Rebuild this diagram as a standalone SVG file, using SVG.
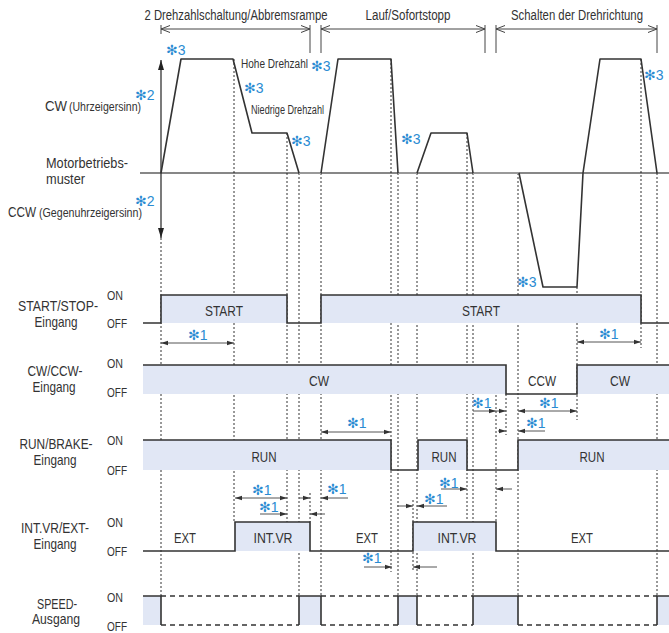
<svg xmlns="http://www.w3.org/2000/svg" width="669" height="633" viewBox="0 0 669 633">
<defs>
<style>
text{font-family:"Liberation Sans Narrow","Liberation Sans",Arial,sans-serif;fill:#333}
.lbl{font-size:14.5px}
.sm{font-size:12px}
.io{font-size:13px}
.in{font-size:14px}
.ttl{font-size:14px}
.mk{font-size:14px;fill:#2a8bd2}
.st{font-family:"DejaVu Sans",sans-serif;font-size:14px;fill:#2a8bd2}
.sig{fill:none;stroke:#333;stroke-width:1.6}
.band{fill:#e1e7f5}
.dot{stroke:#333;stroke-width:1;stroke-dasharray:2,2;fill:none}
.dash{stroke:#333;stroke-width:1.3;stroke-dasharray:5,4;fill:none}
.arr{stroke:#555;stroke-width:1;fill:none;marker-end:url(#ah)}
.dbl{stroke:#555;stroke-width:1;fill:none;marker-end:url(#ah);marker-start:url(#ah)}
.dim{stroke:#444;stroke-width:1;fill:none;marker-end:url(#ch);marker-start:url(#ch)}
.tick{stroke:#444;stroke-width:1;fill:none}
.prof{fill:none;stroke:#333;stroke-width:1.6;stroke-linejoin:round}
</style>
<marker id="ah" viewBox="-8 -3 9 6" markerWidth="9" markerHeight="6" refX="0" refY="0" orient="auto-start-reverse" markerUnits="userSpaceOnUse"><path d="M-7,-2.3 L0,0 L-7,2.3 Z" fill="#333"/></marker>
<marker id="ch" viewBox="-10 -5 11 10" markerWidth="11" markerHeight="10" refX="0" refY="0" orient="auto-start-reverse" markerUnits="userSpaceOnUse"><path d="M-9,-3.5 L0,0 L-9,3.5" fill="none" stroke="#444" stroke-width="1"/></marker>
<marker id="ax" viewBox="-11 -4 12 8" markerWidth="12" markerHeight="8" refX="0" refY="0" orient="auto-start-reverse" markerUnits="userSpaceOnUse"><path d="M-10,-3 L0,0 L-10,3 Z" fill="#222"/></marker>
</defs>

<g id="titles">
<text class="ttl" x="236" y="20" text-anchor="middle" textLength="183" lengthAdjust="spacingAndGlyphs">2 Drehzahlschaltung/Abbremsrampe</text>
<text class="ttl" x="408" y="20" text-anchor="middle" textLength="85" lengthAdjust="spacingAndGlyphs">Lauf/Sofortstopp</text>
<text class="ttl" x="577" y="20" text-anchor="middle" textLength="132" lengthAdjust="spacingAndGlyphs">Schalten der Drehrichtung</text>
<line class="dim" x1="161" y1="29" x2="310" y2="29"/>
<line class="dim" x1="321" y1="29" x2="485" y2="29"/>
<line class="dim" x1="496" y1="29" x2="657" y2="29"/>
<path class="tick" d="M161,25 V34 M310,25 V53 M321,25 V53 M485,25 V53 M496,25 V53 M657,25 V53"/>
</g>

<g id="dotted">
<path class="dot" d="M161,238 V596 M234,59 V522 M287,133 V522 M299,173 V596 M310,493 V522 M321,173 V596 M391,59 V572 M398,173 V596 M413,500 V572 M417,173 V596 M467,133 V520 M473,173 V596 M496,395 V522 M506,394 V435 M518,173 V596 M577,287 V420 M641,59 V348 M657,173 V596"/>
</g>

<g id="motor">
<line x1="140" y1="173" x2="669" y2="173" stroke="#111" stroke-width="1.2"/>
<line x1="161" y1="173" x2="161" y2="60" stroke="#222" stroke-width="1.2" marker-end="url(#ax)"/>
<line x1="161" y1="173" x2="161" y2="238" stroke="#222" stroke-width="1.2" marker-end="url(#ax)"/>
<path d="M299,173 H321 M398,173 H417 M473,173 H519" stroke="#999" stroke-width="2.2" fill="none"/>
<path class="prof" d="M161,173 L181,59 L233,59 L252,133 L287,133 L299,173 M321,173 L338,59 L391,59 L398,173 M417,173 L431,133 L467,133 L473,173 M519,173 L543,287 L577,287 L583,173 L600,59 L641,59 L657,173"/>
<text class="mk" x="166" y="55"><tspan class="st">✻</tspan>3</text>
<text class="sm" x="241" y="68" textLength="67" lengthAdjust="spacingAndGlyphs">Hohe Drehzahl</text>
<text class="mk" x="311" y="71"><tspan class="st">✻</tspan>3</text>
<text class="mk" x="244" y="93"><tspan class="st">✻</tspan>3</text>
<text class="sm" x="251" y="114" textLength="73" lengthAdjust="spacingAndGlyphs">Niedrige Drehzahl</text>
<text class="mk" x="291" y="146"><tspan class="st">✻</tspan>3</text>
<text class="mk" x="401" y="144"><tspan class="st">✻</tspan>3</text>
<text class="mk" x="644" y="80"><tspan class="st">✻</tspan>3</text>
<text class="mk" x="517" y="287"><tspan class="st">✻</tspan>3</text>
<text class="mk" x="135" y="100"><tspan class="st">✻</tspan>2</text>
<text class="mk" x="135" y="206"><tspan class="st">✻</tspan>2</text>
<text class="lbl" x="45" y="111" textLength="22" lengthAdjust="spacingAndGlyphs">CW</text>
<text class="sm" x="69" y="111" textLength="72" lengthAdjust="spacingAndGlyphs">(Uhrzeigersinn)</text>
<text class="lbl" x="8" y="217" textLength="28" lengthAdjust="spacingAndGlyphs">CCW</text>
<text class="sm" x="39" y="217" textLength="103" lengthAdjust="spacingAndGlyphs">(Gegenuhrzeigersinn)</text>
<text class="lbl" x="46" y="168" textLength="82" lengthAdjust="spacingAndGlyphs">Motorbetriebs-</text>
<text class="lbl" x="46" y="184" textLength="39" lengthAdjust="spacingAndGlyphs">muster</text>
</g>

<g id="start-stop">
<rect class="band" x="161" y="295" width="126" height="28"/>
<rect class="band" x="321" y="295" width="320" height="28"/>
<path class="sig" d="M143,323 H161 V295 H287 V323 H321 V295 H641 V323 H669"/>
<text class="lbl" x="58" y="311" text-anchor="middle" textLength="80" lengthAdjust="spacingAndGlyphs">START/STOP-</text>
<text class="lbl" x="56" y="327" text-anchor="middle" textLength="43" lengthAdjust="spacingAndGlyphs">Eingang</text>
<text class="io" x="107" y="300" textLength="16" lengthAdjust="spacingAndGlyphs">ON</text>
<text class="io" x="107" y="328" textLength="20" lengthAdjust="spacingAndGlyphs">OFF</text>
<text class="in" x="224" y="316" text-anchor="middle" textLength="38" lengthAdjust="spacingAndGlyphs">START</text>
<text class="in" x="481" y="316" text-anchor="middle" textLength="38" lengthAdjust="spacingAndGlyphs">START</text>
</g>

<g id="cw-ccw">
<rect class="band" x="143" y="365" width="363" height="29"/>
<rect class="band" x="577" y="365" width="92" height="29"/>
<path class="sig" d="M143,365 H506 V394 H577 V365 H669"/>
<text class="lbl" x="55" y="376" text-anchor="middle" textLength="55" lengthAdjust="spacingAndGlyphs">CW/CCW-</text>
<text class="lbl" x="54" y="392" text-anchor="middle" textLength="43" lengthAdjust="spacingAndGlyphs">Eingang</text>
<text class="io" x="107" y="368" textLength="16" lengthAdjust="spacingAndGlyphs">ON</text>
<text class="io" x="107" y="397" textLength="20" lengthAdjust="spacingAndGlyphs">OFF</text>
<text class="in" x="319" y="386" text-anchor="middle" textLength="20" lengthAdjust="spacingAndGlyphs">CW</text>
<text class="in" x="542" y="386" text-anchor="middle" textLength="28" lengthAdjust="spacingAndGlyphs">CCW</text>
<text class="in" x="620" y="386" text-anchor="middle" textLength="20" lengthAdjust="spacingAndGlyphs">CW</text>
</g>

<g id="run-brake">
<rect class="band" x="143" y="440" width="248" height="30"/>
<rect class="band" x="418" y="440" width="49" height="30"/>
<rect class="band" x="518" y="440" width="151" height="30"/>
<path class="sig" d="M143,440 H391 V470 H418 V440 H467 V470 H518 V440 H669"/>
<text class="lbl" x="56" y="449" text-anchor="middle" textLength="73" lengthAdjust="spacingAndGlyphs">RUN/BRAKE-</text>
<text class="lbl" x="55" y="465" text-anchor="middle" textLength="43" lengthAdjust="spacingAndGlyphs">Eingang</text>
<text class="io" x="107" y="445" textLength="16" lengthAdjust="spacingAndGlyphs">ON</text>
<text class="io" x="107" y="475" textLength="20" lengthAdjust="spacingAndGlyphs">OFF</text>
<text class="in" x="264" y="462" text-anchor="middle" textLength="25" lengthAdjust="spacingAndGlyphs">RUN</text>
<text class="in" x="444" y="462" text-anchor="middle" textLength="25" lengthAdjust="spacingAndGlyphs">RUN</text>
<text class="in" x="592" y="462" text-anchor="middle" textLength="25" lengthAdjust="spacingAndGlyphs">RUN</text>
</g>

<g id="intvr-ext">
<rect class="band" x="235" y="522" width="75" height="29"/>
<rect class="band" x="413" y="522" width="83" height="29"/>
<path class="sig" d="M143,551 H235 V522 H310 V551 H413 V522 H496 V551 H669"/>
<text class="lbl" x="55" y="533" text-anchor="middle" textLength="68" lengthAdjust="spacingAndGlyphs">INT.VR/EXT-</text>
<text class="lbl" x="55" y="549" text-anchor="middle" textLength="43" lengthAdjust="spacingAndGlyphs">Eingang</text>
<text class="io" x="107" y="527" textLength="16" lengthAdjust="spacingAndGlyphs">ON</text>
<text class="io" x="107" y="556" textLength="20" lengthAdjust="spacingAndGlyphs">OFF</text>
<text class="in" x="185" y="543" text-anchor="middle" textLength="22" lengthAdjust="spacingAndGlyphs">EXT</text>
<text class="in" x="273" y="543" text-anchor="middle" textLength="39" lengthAdjust="spacingAndGlyphs">INT.VR</text>
<text class="in" x="367" y="543" text-anchor="middle" textLength="22" lengthAdjust="spacingAndGlyphs">EXT</text>
<text class="in" x="457" y="543" text-anchor="middle" textLength="39" lengthAdjust="spacingAndGlyphs">INT.VR</text>
<text class="in" x="582" y="543" text-anchor="middle" textLength="22" lengthAdjust="spacingAndGlyphs">EXT</text>
</g>

<g id="speed">
<rect class="band" x="143" y="596" width="18" height="29"/>
<rect class="band" x="299" y="596" width="22" height="29"/>
<rect class="band" x="398" y="596" width="19" height="29"/>
<rect class="band" x="473" y="596" width="45" height="29"/>
<rect class="band" x="657" y="596" width="12" height="29"/>
<path class="sig" d="M143,596 H161 V625 M299,625 V596 H321 V625 M398,625 V596 H417 V625 M473,625 V596 H518 V625 M657,625 V596 H669"/>
<path class="dash" d="M161,596 H299 M321,596 H398 M417,596 H473 M518,596 H657 M161,625 H299 M321,625 H398 M417,625 H473 M518,625 H657"/>
<text class="lbl" x="57" y="609" text-anchor="middle" textLength="40" lengthAdjust="spacingAndGlyphs">SPEED-</text>
<text class="lbl" x="56" y="624" text-anchor="middle" textLength="48" lengthAdjust="spacingAndGlyphs">Ausgang</text>
<text class="io" x="107" y="602" textLength="16" lengthAdjust="spacingAndGlyphs">ON</text>
<text class="io" x="107" y="631" textLength="20" lengthAdjust="spacingAndGlyphs">OFF</text>
</g>

<g id="connectors">
<line class="dbl" x1="161" y1="343" x2="234" y2="343"/>
<line class="dbl" x1="577" y1="342" x2="641" y2="342"/>
<line class="dbl" x1="321" y1="432" x2="391" y2="432"/>
<line class="arr" x1="473" y1="411" x2="496" y2="411"/>
<line class="arr" x1="496" y1="411" x2="506" y2="411"/>
<line class="dbl" x1="518" y1="411" x2="577" y2="411"/>
<line class="arr" x1="498" y1="431" x2="506" y2="431"/>
<line class="arr" x1="545" y1="431" x2="518" y2="431"/>
<line class="dbl" x1="235" y1="498" x2="287" y2="498"/>
<line class="arr" x1="260" y1="514" x2="287" y2="514"/>
<line class="arr" x1="325" y1="514" x2="310" y2="514"/>
<line class="arr" x1="299" y1="498" x2="310" y2="498"/>
<line class="arr" x1="348" y1="498" x2="321" y2="498"/>
<line class="arr" x1="441" y1="489" x2="467" y2="489"/>
<line class="arr" x1="512" y1="489" x2="496" y2="489"/>
<line class="arr" x1="397" y1="506" x2="413" y2="506"/>
<line class="arr" x1="447" y1="506" x2="417" y2="506"/>
<line class="arr" x1="364" y1="567" x2="392" y2="567"/>
<line class="arr" x1="437" y1="567" x2="413" y2="567"/>
<text class="mk" x="188" y="340"><tspan class="st">✻</tspan>1</text>
<text class="mk" x="599" y="339"><tspan class="st">✻</tspan>1</text>
<text class="mk" x="347" y="428"><tspan class="st">✻</tspan>1</text>
<text class="mk" x="472" y="408"><tspan class="st">✻</tspan>1</text>
<text class="mk" x="539" y="408"><tspan class="st">✻</tspan>1</text>
<text class="mk" x="526" y="428"><tspan class="st">✻</tspan>1</text>
<text class="mk" x="252" y="495"><tspan class="st">✻</tspan>1</text>
<text class="mk" x="259" y="512"><tspan class="st">✻</tspan>1</text>
<text class="mk" x="327" y="494"><tspan class="st">✻</tspan>1</text>
<text class="mk" x="439" y="488"><tspan class="st">✻</tspan>1</text>
<text class="mk" x="424" y="504"><tspan class="st">✻</tspan>1</text>
<text class="mk" x="362" y="563"><tspan class="st">✻</tspan>1</text>
</g>
</svg>
